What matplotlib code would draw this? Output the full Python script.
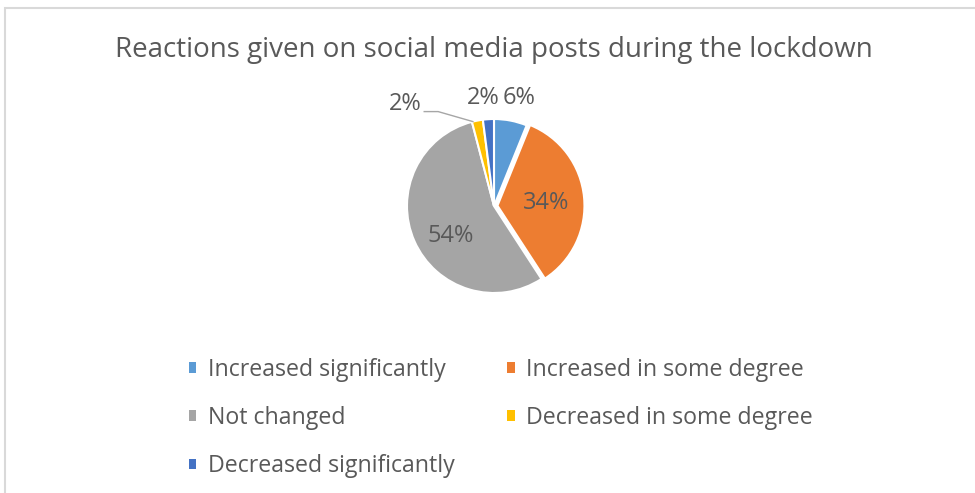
import numpy as np
import matplotlib
matplotlib.use("Agg")
import matplotlib.pyplot as plt
from matplotlib.patches import Rectangle

# ============== DATA ==============
categories = ['Increased significantly', 'Increased in some degree', 'Not changed',
              'Decreased in some degree', 'Decreased significantly']
shares = [6, 34, 54, 2, 2]
labels = ['6%', '34%', '54%', '2%', '2%']
colors = ['#5B9BD5', '#ED7D31', '#A5A5A5', '#FFC000', '#4472C4']
title = 'Reactions given on social media posts during the lockdown'
# ==================================

TXT = '#595959'
plt.rcParams['font.family'] = ['Open Sans', 'DejaVu Sans']

fig = plt.figure(figsize=(9.75, 4.93), dpi=100)

# light chart frame (runs off the right and bottom edges)
fig.patches.append(Rectangle((5 / 975, -0.1), 1.1, (493 - 8) / 493 + 0.1,
                             transform=fig.transFigure, fill=False,
                             edgecolor='#D9D9D9', lw=1.5))

# pie axes: centre at (494, 206) px, radius 87 px
cx, cy, r_px = 494, 493 - 206, 87
half = 2 * r_px
ax = fig.add_axes([(cx - half) / 975, (cy - half) / 493, 2 * half / 975, 2 * half / 493])

explode = [0, 0.04, 0, 0, 0]
wedges, _ = ax.pie(shares, colors=colors, startangle=90, counterclock=False,
                   explode=explode, wedgeprops=dict(edgecolor='white', linewidth=1.5))
ax.set_xlim(-2, 2)
ax.set_ylim(-2, 2)
ax.set_aspect('auto')
ax.axis('off')

# label placement per slice: (radius factor, angle shift in deg)
placement = {0: (1.27, -2), 1: (0.6, -2), 2: (0.6, 11), 4: (1.25, 2)}
for i, w in enumerate(wedges):
    mid = np.deg2rad((w.theta1 + w.theta2) / 2)
    if i in placement:
        rf, shift = placement[i]
        a = mid + np.deg2rad(shift)
        ax.text(rf * np.cos(a), rf * np.sin(a), labels[i], ha='center', va='center',
                fontsize=17, color=TXT)
    else:
        # small slice pulled outside with a leader line
        a = mid + np.deg2rad(3)
        ex, ey = np.cos(a), np.sin(a)
        kx, ky = ex - 0.40, ey + 0.115
        sx = kx - 0.16
        ax.plot([sx, kx, ex], [ky, ky, ey], color='#A6A6A6', lw=1)
        ax.text(sx - 0.03, ky + 0.09, labels[i], ha='right', va='center',
                fontsize=17, color=TXT)

fig.text(494 / 975, 1 - 50 / 493, title, ha='center', va='center', fontsize=20, color=TXT)

# legend, filled row-wise like the original (matplotlib fills columns)
order = [0, 2, 4, 1, 3]
handles = [Rectangle((0, 0), 1, 1, facecolor=colors[i], edgecolor='none') for i in order]
leg = fig.legend(handles, [categories[i] for i in order], ncol=2,
                 loc='upper left', bbox_to_anchor=(177 / 975, 1 - 346 / 493),
                 frameon=False, fontsize=16.7, labelcolor=TXT,
                 handlelength=0.32, handleheight=0.32, handletextpad=0.5,
                 columnspacing=2.28, labelspacing=1.05, borderpad=0)

fig.savefig('out.png', dpi=100)
